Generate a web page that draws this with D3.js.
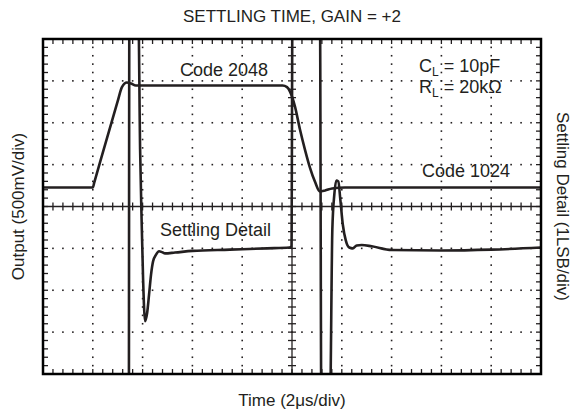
<!DOCTYPE html>
<html>
<head>
<meta charset="utf-8">
<script src="https://cdn.jsdelivr.net/npm/d3@7"></script>
<style>
  body { margin: 0; background: #fff; }
  text { font-family: "Liberation Sans", Arial, sans-serif; fill: #231f20; }
</style>
</head>
<body>
<svg id="chart" width="579" height="416"></svg>
<script>

// output trace, time in us (2us/div), output in mV (500mV/div)
var output_time = [0, 2.0, 2.06, 3.0, 3.17, 3.37, 3.53, 3.73, 9.62, 9.8, 9.92, 10.12, 10.32, 10.52, 10.72, 10.92, 11.12, 11.33, 11.61, 12.13, 20]
var output_mv = [227, 227, 289, 1257, 1425, 1480, 1468, 1444, 1444, 1425, 1372, 1193, 919, 680, 465, 298, 179, 191, 215, 227, 227]

// settling detail trace, LSB (1LSB/div); +-5 means off screen
var settle_time = [3.45, 3.47, 3.82, 3.90, 3.96, 4.02, 4.10, 4.18, 4.26, 4.34, 4.42, 4.54, 4.66, 4.78, 4.9, 5.3, 6.0, 7.5, 9.0, 9.9, 9.98,
  10.02, 11.12, 11.18, 11.52, 11.62, 11.7, 11.78, 11.86, 11.94, 12.04, 12.16, 12.3, 12.44, 12.6, 12.8, 13.2, 14.0, 16.0, 18.0, 20]
var settle_lsb = [-5, 5, 5, 1.36, -0.31, -1.74, -2.74, -2.55, -2.10, -1.62, -1.31, -1.15, -1.07, -1.09, -1.12, -1.10, -1.06, -1.03, -1.00, -0.98, -0.95,
  5, 5, -5, -5, -0.55, 0.29, 0.62, 0.60, 0.17, -0.43, -0.81, -0.98, -1.0, -0.93, -0.92, -0.95, -1.04, -1.05, -1.03, -0.98]

var time_divs = d3.range(0, 21, 2)
var mv_divs = d3.range(-2000, 2001, 500)

var plot_left = 43, plot_right = 541, plot_top = 39, plot_bottom = 374
var ink = "#231f20"

var x = d3.scaleLinear().domain([0, 20]).range([plot_left, plot_right])
var y = d3.scaleLinear().domain([-2000, 2000]).range([plot_bottom, plot_top])
var y_lsb = d3.scaleLinear().domain([-4, 4]).range([plot_bottom, plot_top])

var svg = d3.select("#chart")

svg.append("clipPath").attr("id", "plot-clip")
  .append("rect")
    .attr("x", plot_left).attr("y", plot_top)
    .attr("width", plot_right - plot_left).attr("height", plot_bottom - plot_top)

// dotted grid, one dot on every minor step
var minor_x = d3.range(0, 20.01, 0.4)
var minor_y = d3.range(-2000, 2001, 100)
var grid = svg.append("g").attr("id", "grid")
time_divs.slice(1, -1).forEach(function(t){
  if (t == 10) return
  grid.selectAll(null).data(minor_y).enter().append("rect")
    .attr("x", x(t) - 0.8).attr("y", function(d){ return y(d) - 0.8 })
    .attr("width", 1.6).attr("height", 1.6).attr("fill", ink)
})
mv_divs.slice(1, -1).forEach(function(v){
  if (v == 0) return
  grid.selectAll(null).data(minor_x).enter().append("rect")
    .attr("x", function(d){ return x(d) - 0.8 }).attr("y", y(v) - 0.8)
    .attr("width", 1.6).attr("height", 1.6).attr("fill", ink)
})

// centre axes with ticks both sides
var axes = svg.append("g").attr("id", "centre-axes")
axes.append("line")
  .attr("x1", plot_left).attr("x2", plot_right).attr("y1", y(0)).attr("y2", y(0))
  .attr("stroke", ink).attr("stroke-width", 1.3)
axes.append("line")
  .attr("x1", x(10)).attr("x2", x(10)).attr("y1", plot_top).attr("y2", plot_bottom)
  .attr("stroke", ink).attr("stroke-width", 1.3)
axes.selectAll(null).data(minor_x).enter().append("line")
  .attr("x1", function(d){ return x(d) }).attr("x2", function(d){ return x(d) })
  .attr("y1", y(0) - 4).attr("y2", y(0) + 4)
  .attr("stroke", ink).attr("stroke-width", 1.3)
axes.selectAll(null).data(minor_y).enter().append("line")
  .attr("x1", x(10) - 4).attr("x2", x(10) + 4)
  .attr("y1", function(d){ return y(d) }).attr("y2", function(d){ return y(d) })
  .attr("stroke", ink).attr("stroke-width", 1.3)

// inward ticks on the frame
var edge = svg.append("g").attr("id", "edge-ticks")
;[plot_top, plot_bottom].forEach(function(yy){
  var dir = yy == plot_top ? 1 : -1
  edge.selectAll(null).data(minor_x).enter().append("line")
    .attr("x1", function(d){ return x(d) }).attr("x2", function(d){ return x(d) })
    .attr("y1", yy).attr("y2", yy + dir * 5)
    .attr("stroke", ink).attr("stroke-width", 1.3)
})
;[plot_left, plot_right].forEach(function(xx){
  var dir = xx == plot_left ? 1 : -1
  edge.selectAll(null).data(minor_y).enter().append("line")
    .attr("x1", xx).attr("x2", xx + dir * 5)
    .attr("y1", function(d){ return y(d) }).attr("y2", function(d){ return y(d) })
    .attr("stroke", ink).attr("stroke-width", 1.3)
})

// traces
var traces = svg.append("g").attr("clip-path", "url(#plot-clip)")

var output_line = d3.line()
  .x(function(d, i){ return x(output_time[i]) })
  .y(function(d){ return y(d) })
  .curve(d3.curveMonotoneX)

var settle_line = d3.line()
  .x(function(d, i){ return x(settle_time[i]) })
  .y(function(d){ return y_lsb(d) })
  .curve(d3.curveMonotoneX)

traces.append("path")
  .attr("fill", "none").attr("stroke", ink).attr("stroke-width", 2.6)
  .attr("stroke-linejoin", "round")
  .attr("d", output_line(output_mv))

traces.append("path")
  .attr("fill", "none").attr("stroke", ink).attr("stroke-width", 2.6)
  .attr("stroke-linejoin", "round")
  .attr("d", settle_line(settle_lsb))

// frame
svg.append("rect")
  .attr("x", plot_left).attr("y", plot_top)
  .attr("width", plot_right - plot_left).attr("height", plot_bottom - plot_top)
  .attr("fill", "none").attr("stroke", "#000").attr("stroke-width", 2.5)

// labels
svg.append("text")
  .attr("x", (plot_left + plot_right) / 2).attr("y", 22)
  .attr("text-anchor", "middle").attr("font-size", 17)
  .text("SETTLING TIME, GAIN = +2")

svg.append("text")
  .attr("x", (plot_left + plot_right) / 2).attr("y", 406)
  .attr("text-anchor", "middle").attr("font-size", 17)
  .text("Time (2\u03bcs/div)")

svg.append("text")
  .attr("transform", "translate(24," + y(0) + ") rotate(-90)")
  .attr("text-anchor", "middle").attr("font-size", 17)
  .text("Output (500mV/div)")

svg.append("text")
  .attr("transform", "translate(557," + y(0) + ") rotate(90)")
  .attr("text-anchor", "middle").attr("font-size", 17)
  .text("Settling Detail (1LSB/div)")

var notes = svg.append("g").attr("font-size", 18)

notes.append("text").attr("x", 180).attr("y", 76).text("Code 2048")
notes.append("text").attr("x", 422).attr("y", 177).text("Code 1024")
notes.append("text").attr("x", 160).attr("y", 236).text("Settling Detail")

var cl = notes.append("text").attr("x", 419).attr("y", 72)
cl.append("tspan").text("C")
cl.append("tspan").attr("font-size", 12).attr("dy", 4).text("L")
cl.append("tspan").attr("dy", -4).text(" = 10pF")

var rl = notes.append("text").attr("x", 419).attr("y", 93)
rl.append("tspan").text("R")
rl.append("tspan").attr("font-size", 12).attr("dy", 4).text("L")
rl.append("tspan").attr("dy", -4).text(" = 20k\u03a9")

</script>
</body>
</html>
